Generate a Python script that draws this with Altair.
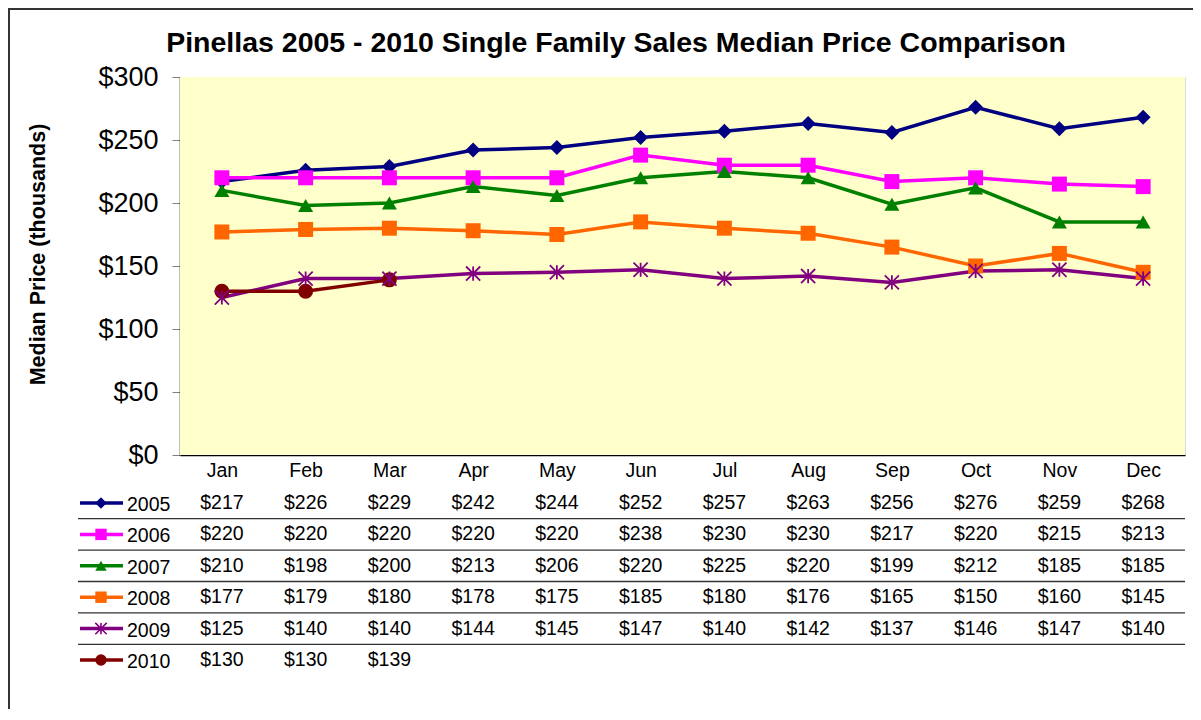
import altair as alt
import pandas as pd

title_text = "Pinellas 2005 - 2010 Single Family Sales Median Price Comparison"
months = ["Jan", "Feb", "Mar", "Apr", "May", "Jun", "Jul", "Aug", "Sep", "Oct", "Nov", "Dec"]
years = ["2005", "2006", "2007", "2008", "2009", "2010"]
v2005 = [217, 226, 229, 242, 244, 252, 257, 263, 256, 276, 259, 268]
v2006 = [220, 220, 220, 220, 220, 238, 230, 230, 217, 220, 215, 213]
v2007 = [210, 198, 200, 213, 206, 220, 225, 220, 199, 212, 185, 185]
v2008 = [177, 179, 180, 178, 175, 185, 180, 176, 165, 150, 160, 145]
v2009 = [125, 140, 140, 144, 145, 147, 140, 142, 137, 146, 147, 140]
v2010 = [130, 130, 139]
y_ticks = [0, 50, 100, 150, 200, 250, 300]

colors = ["#000080", "#FF00FF", "#008000", "#FF6600", "#800080", "#800000"]
star = "M-1,-1L1,1M-1,1L1,-1M0,-1L0,1"
shapes = ["diamond", "square", "triangle-up", "square", star, "circle"]

series = dict(zip(years, [v2005, v2006, v2007, v2008, v2009, v2010]))
rows = []
for y in years:
    for i, v in enumerate(series[y]):
        rows.append({"year": y, "month": months[i], "value": v, "label": f"${v}"})
df = pd.DataFrame(rows)
df_years = pd.DataFrame({"year": years})
df_sep = pd.DataFrame({"year": years[:-1]})
df_one = pd.DataFrame({"title": [title_text]})

W, H = 1005, 378
FONT = "Liberation Sans"

xenc = alt.X("month:N", scale=alt.Scale(type="point", domain=months, padding=0.5),
             sort=months,
             axis=alt.Axis(title=None, labelFontSize=19.5, labelColor="black", labelFont=FONT,
                           ticks=False, domainColor="black", domainWidth=1.5,
                           labelPadding=6, labelAngle=0))
color_scale = alt.Scale(domain=years, range=colors)
shape_scale = alt.Scale(domain=years, range=shapes)
row_scale = alt.Scale(type="point", domain=years, range=[426, 583], padding=0)
val_scale = alt.Scale(domain=[0, 300])

base = alt.Chart(df)

plot_bg = alt.Chart(df_one).mark_rect(color="#FFFFCC").encode(
    x=alt.value(0), x2=alt.value(W), y=alt.value(0), y2=alt.value(H),
)

lines = base.mark_line(strokeWidth=3.5).encode(
    x=xenc,
    y=alt.Y("value:Q", scale=val_scale,
            axis=alt.Axis(title="Median Price (thousands)", values=y_ticks, grid=False,
                          labelExpr="'$' + datum.value", labelFontSize=27, labelFont=FONT,
                          labelColor="black", labelPadding=14, tickSize=8, tickColor="#808080",
                          domainColor="black", domainWidth=1.5,
                          titleFontSize=21.5, titleFont=FONT, titleFontWeight="bold",
                          titleColor="black", titlePadding=48, titleY=177)),
    color=alt.Color("year:N", scale=color_scale, legend=None),
    detail="year:N",
)

pts = base.transform_filter("datum.year != '2009'").mark_point(filled=True, size=225, opacity=1).encode(
    x=xenc,
    y=alt.Y("value:Q", scale=val_scale, axis=None),
    color=alt.Color("year:N", scale=color_scale, legend=None),
    shape=alt.Shape("year:N", scale=shape_scale, legend=None),
)
stars = base.transform_filter("datum.year == '2009'").mark_point(
    filled=False, size=200, opacity=1, strokeWidth=1.8, shape=star, color="#800080").encode(
    x=xenc,
    y=alt.Y("value:Q", scale=val_scale, axis=None),
)

table_text = base.mark_text(fontSize=19.5, font=FONT, color="black", align="center", baseline="middle").encode(
    x=xenc,
    y=alt.Y("year:O", scale=row_scale, axis=None),
    text="label:N",
)

seps = alt.Chart(df_sep).mark_rule(color="#333333", strokeWidth=1.3, yOffset=15.7).encode(
    x=alt.value(-102), x2=alt.value(W),
    y=alt.Y("year:O", scale=row_scale, axis=None),
)

leg_lines = alt.Chart(df_years).mark_rule(strokeWidth=3.5).encode(
    x=alt.value(-100), x2=alt.value(-57),
    y=alt.Y("year:O", scale=row_scale, axis=None),
    color=alt.Color("year:N", scale=color_scale, legend=None),
)
leg_pts = alt.Chart(df_years).transform_filter("datum.year != '2009'").mark_point(
    filled=True, size=130, opacity=1).encode(
    x=alt.value(-79),
    y=alt.Y("year:O", scale=row_scale, axis=None),
    color=alt.Color("year:N", scale=color_scale, legend=None),
    shape=alt.Shape("year:N", scale=shape_scale, legend=None),
)
leg_star = alt.Chart(df_years).transform_filter("datum.year == '2009'").mark_point(
    filled=False, size=130, opacity=1, strokeWidth=1.6, shape=star, color="#800080").encode(
    x=alt.value(-79),
    y=alt.Y("year:O", scale=row_scale, axis=None),
)
leg_text = alt.Chart(df_years).mark_text(fontSize=19.5, font=FONT, color="black", align="left",
                                          baseline="middle", dy=2).encode(
    x=alt.value(-53),
    y=alt.Y("year:O", scale=row_scale, axis=None),
    text="year:N",
)

title_mark = alt.Chart(df_one).mark_text(fontSize=28.5, font=FONT, fontWeight="bold", color="black",
                                          align="center", baseline="alphabetic").encode(
    x=alt.value(436), y=alt.value(-25), text="title:N",
)

border = alt.Chart(df_one).mark_rect(
    fill="transparent", fillOpacity=0, stroke="#333333", strokeWidth=2).encode(
    x=alt.value(-171), x2=alt.value(W + 100),
    y=alt.value(-68), y2=alt.value(H + 400),
)

chart = alt.layer(
    plot_bg, lines, pts, stars, table_text, seps, leg_lines, leg_pts, leg_star, leg_text,
    title_mark, border
).resolve_scale(y="independent", shape="independent").properties(
    width=W, height=H,
    autosize=alt.AutoSizeParams(type="none"),
    padding={"left": 172, "top": 69, "right": 8, "bottom": 254},
).configure_view(stroke=None).configure(background="white")

chart.save("out.html", embed_options={"renderer": "svg", "actions": False})
